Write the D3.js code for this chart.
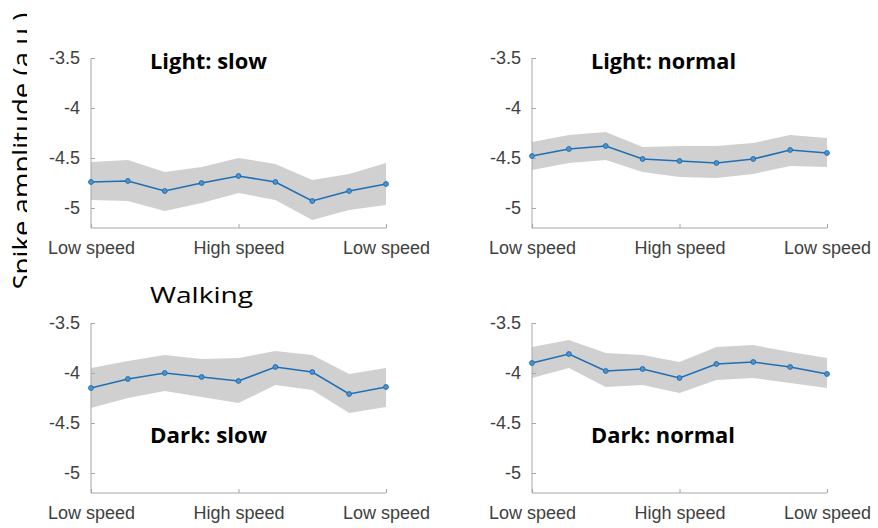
<!DOCTYPE html>
<html>
<head>
<meta charset="utf-8">
<script src="https://cdnjs.cloudflare.com/ajax/libs/d3/7.8.5/d3.min.js"></script>
<style>
  body { margin: 0; background: #fff; }
  svg { display: block; }
</style>
</head>
<body>
<script>
// x positions: 9 speed steps, labelled at start / middle / end
var steps = [0,1,2,3,4,5,6,7,8];
var xTickSteps = [0,4,8];
var xTickLabels = ["Low speed","High speed","Low speed"];
var yTicks = [-3.5,-4,-4.5,-5];

var lightSlowMean  = [-4.74,-4.73,-4.83,-4.75,-4.68,-4.74,-4.93,-4.83,-4.76];
var lightSlowUpper = [-4.54,-4.52,-4.64,-4.59,-4.50,-4.56,-4.72,-4.66,-4.55];
var lightSlowLower = [-4.92,-4.93,-5.03,-4.95,-4.85,-4.92,-5.12,-5.02,-4.97];

var lightNormMean  = [-4.48,-4.41,-4.38,-4.51,-4.53,-4.55,-4.51,-4.42,-4.45];
var lightNormUpper = [-4.34,-4.27,-4.24,-4.39,-4.38,-4.38,-4.35,-4.27,-4.30];
var lightNormLower = [-4.62,-4.55,-4.52,-4.64,-4.69,-4.70,-4.66,-4.58,-4.59];

var darkSlowMean  = [-4.15,-4.06,-4.00,-4.04,-4.08,-3.94,-3.99,-4.21,-4.14];
var darkSlowUpper = [-3.95,-3.88,-3.82,-3.86,-3.85,-3.78,-3.82,-4.01,-3.95];
var darkSlowLower = [-4.35,-4.25,-4.18,-4.24,-4.30,-4.12,-4.17,-4.40,-4.34];

var darkNormMean  = [-3.90,-3.81,-3.98,-3.96,-4.05,-3.91,-3.89,-3.94,-4.01];
var darkNormUpper = [-3.74,-3.67,-3.80,-3.82,-3.89,-3.74,-3.72,-3.79,-3.85];
var darkNormLower = [-4.05,-3.95,-4.14,-4.12,-4.20,-4.07,-4.05,-4.10,-4.15];

var W = 878, H = 528;
var svg = d3.select("body").append("svg")
            .attr("width", W)
            .attr("height", H);

svg.append("rect").attr("width", W).attr("height", H).attr("fill", "#fff");

function drawPanel(left, top, mean, upper, lower, title, titleY, titleLen) {
  var x = d3.scaleLinear().domain([0, 8]).range([left, left + 295]);
  var y = d3.scaleLinear().domain([-5.2, -3.5]).range([top + 170, top]);

  var g = svg.append("g");

  // shaded band
  var area = d3.area()
      .x(function(d, i){ return x(steps[i]); })
      .y0(function(d, i){ return y(lower[i]); })
      .y1(function(d, i){ return y(upper[i]); });
  g.append("path")
      .datum(mean)
      .attr("d", area)
      .attr("fill", "#d0d0d0");

  // y axis
  var yAxis = d3.axisLeft(y).tickValues(yTicks).tickSize(-4).tickPadding(11)
      .tickFormat(function(d){ return d3.format("")(d).replace("\u2212","-"); });
  var ya = g.append("g").attr("transform", "translate(" + left + ",0)").call(yAxis);
  ya.select(".domain").attr("stroke", "#a6a6a6").attr("d", "M0," + (top + 170) + "V" + top);
  ya.selectAll(".tick line").attr("stroke", "#a6a6a6");
  ya.selectAll("text")
      .attr("fill", "#404040")
      .attr("font-family", "Liberation Sans, Arial, sans-serif")
      .attr("font-size", 18);

  // x axis
  var xAxis = d3.axisBottom(x).tickValues(xTickSteps).tickSize(-4).tickPadding(13)
      .tickFormat(function(d, i){ return xTickLabels[i]; });
  var xa = g.append("g").attr("transform", "translate(0," + (top + 170) + ")").call(xAxis);
  xa.select(".domain").attr("stroke", "#a6a6a6").attr("d", "M" + left + ",0H" + (left + 295));
  xa.selectAll(".tick line").attr("stroke", "#a6a6a6");
  xa.selectAll("text")
      .attr("fill", "#404040")
      .attr("font-family", "Liberation Sans, Arial, sans-serif")
      .attr("font-size", 18);

  // mean line
  var line = d3.line()
      .x(function(d, i){ return x(steps[i]); })
      .y(function(d){ return y(d); });
  g.append("path")
      .datum(mean)
      .attr("d", line)
      .attr("fill", "none")
      .attr("stroke", "#1f6fb4")
      .attr("stroke-width", 1.6);

  g.selectAll("circle")
      .data(mean)
      .enter().append("circle")
              .attr("cx", function(d, i){ return x(steps[i]); })
              .attr("cy", function(d){ return y(d); })
              .attr("r", 2.4)
              .attr("fill", "#4d94cf")
              .attr("stroke", "#1f6fb4")
              .attr("stroke-width", 1);

  g.append("text")
      .attr("x", left + 59)
      .attr("y", titleY)
      .attr("font-family", "Open Sans, sans-serif")
      .attr("font-weight", "bold")
      .attr("font-size", 21)
      .attr("textLength", titleLen)
      .attr("lengthAdjust", "spacingAndGlyphs")
      .attr("fill", "#000")
      .text(title);
}

drawPanel(91, 58, lightSlowMean, lightSlowUpper, lightSlowLower, "Light: slow", 69, 117);
drawPanel(532, 58, lightNormMean, lightNormUpper, lightNormLower, "Light: normal", 69, 145);
drawPanel(91, 323, darkSlowMean, darkSlowUpper, darkSlowLower, "Dark: slow", 443, 117);
drawPanel(532, 323, darkNormMean, darkNormUpper, darkNormLower, "Dark: normal", 443, 144);

svg.append("text")
    .attr("x", 150)
    .attr("y", 303)
    .attr("font-family", "Open Sans, sans-serif")
    .attr("font-size", 22)
    .attr("textLength", 103)
    .attr("lengthAdjust", "spacingAndGlyphs")
    .attr("fill", "#000")
    .text("Walking");

// y axis label, partly cut off like the original crop
svg.append("clipPath").attr("id", "ylabclip")
   .append("rect").attr("x", 0).attr("y", 0).attr("width", 27).attr("height", H);
svg.append("g")
    .attr("clip-path", "url(#ylabclip)")
  .append("text")
    .attr("transform", "translate(31,151) rotate(-90)")
    .attr("text-anchor", "middle")
    .attr("font-family", "Open Sans, sans-serif")
    .attr("font-size", 25)
    .attr("textLength", 277)
    .attr("lengthAdjust", "spacingAndGlyphs")
    .attr("fill", "#000")
    .text("Spike amplitude (a.u.)");
</script>
</body>
</html>
